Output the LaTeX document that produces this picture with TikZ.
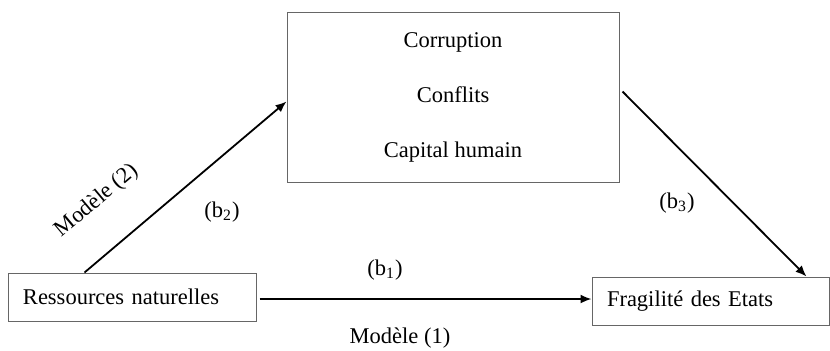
\documentclass[tikz,border=0pt]{standalone}
\usepackage{fontspec}
\setmainfont{Liberation Serif}
\usetikzlibrary{arrows.meta}
\tikzset{
	varbox/.style={draw=black!60,line width=0.5pt,inner xsep=7.5pt,inner ysep=0pt,
		minimum height=24pt,align=left,font=\fontsize{11.25}{13}\selectfont},
	effect/.style={-{Latex[length=5.5pt,width=4.5pt]},line width=0.9pt},
	coef/.style={font=\fontsize{11.25}{13}\selectfont,inner sep=0pt}
}
\begin{document}
\begin{tikzpicture}[x=0.5pt,y=-0.5pt]
				\useasboundingbox (0,0) rectangle (830,350);
				\node[varbox,text width=109pt] (res) at (132,297) {Ressources naturelles};
				\node[varbox,text width=103.5pt] (frag) at (710.5,301) {Fragilité des Etats};
				\node[draw=black!60,line width=0.5pt,minimum width=166pt,minimum height=85pt,align=center,
					font=\fontsize{11.25}{27.5}\selectfont] (med) at (453,97) {Corruption\\Conflits\\Capital humain};
				\coordinate (b2start) at ([xshift=38.5pt]res.north west);
				\coordinate (b2end) at ([yshift=-45pt]med.north west);
				\coordinate (b3start) at ([yshift=-40pt,xshift=1.5pt]med.north east);
				\coordinate (b3end) at ([xshift=107.5pt]frag.north west);
				\draw[effect] (b2start) -- (b2end);
				\draw[effect] (b3start) -- (b3end);
				\draw[effect] ([xshift=1.5pt,yshift=-1pt]res.east) -- ([yshift=-1pt]res.east -| frag.west);
				\node[coef] (lb1) at (385,270) {(b\textsubscript{1})};
				\node[coef] (lb2) at (222,212) {(b\textsubscript{2})};
				\node[coef] (lb3) at (677,203) {(b\textsubscript{3})};
				\node[coef] (m1) at (400,338) {Modèle (1)};
				\node[coef,rotate=40] (m2) at (97,201) {Modèle (2)};
			\end{tikzpicture}
\end{document}
